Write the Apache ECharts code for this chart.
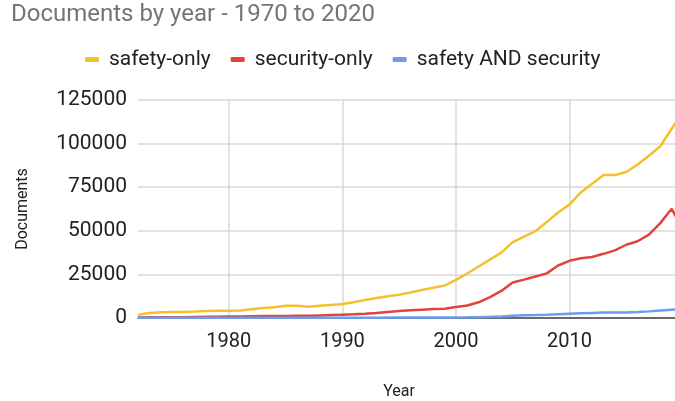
<!DOCTYPE html>
<html>
<head>
<meta charset="utf-8">
<script src="https://cdn.jsdelivr.net/npm/echarts@6/dist/echarts.min.js"></script>
<style>
html,body{margin:0;padding:0;overflow:hidden;background:#fff;width:675px;height:401px;}
#wrap{position:relative;width:675px;height:401px;overflow:hidden;}
#c{position:absolute;left:0;top:0;width:690px;height:401px;}
</style>
</head>
<body>
<div id="wrap"><div id="c"></div></div>
<script>
const titleText = 'Documents by year - 1970 to 2020';
const seriesNames = ['safety-only', 'security-only', 'safety AND security'];
const years = [];
for (let y = 1972; y <= 2020; y++) years.push(String(y));
const safetyOnly = [1800,2900,3300,3400,3500,3700,4000,4100,4200,4300,5000,5700,6200,7000,7000,6500,7000,7500,8000,9000,10300,11500,12500,13300,14600,16000,17300,18600,21900,25500,29500,33500,37500,43500,46700,49800,55000,60500,65000,72000,77000,82000,82000,83700,88000,93000,98500,108500,118000];
const securityOnly = [300,400,400,500,500,600,700,700,800,900,1000,1100,1200,1200,1300,1300,1500,1700,1900,2100,2400,2900,3500,4000,4500,4800,5100,5300,6300,7200,9000,12000,15500,20400,22000,23800,25600,30100,32800,34300,35000,36800,38800,42000,44000,47800,54400,62600,51000];
const safetyAndSecurity = [100,100,100,100,100,100,100,100,100,100,100,100,150,150,150,150,150,200,200,200,200,200,250,250,250,300,300,300,350,400,500,650,900,1300,1600,1700,1900,2200,2500,2700,2900,3100,3200,3200,3400,3800,4300,4800,5300];
const xTickYears = ['1980', '1990', '2000', '2010'];
const yTicks = {min: 0, max: 125000, interval: 25000};
const colors = ['#f4c12e', '#e0443a', '#6a9cef'];
const font = 'Roboto, Arial, sans-serif';

const chart = echarts.init(document.getElementById('c'), null, {renderer: 'canvas'});
const decade = (i, v) => xTickYears.indexOf(String(v)) >= 0;
chart.setOption({
  animation: false,
  color: colors,
  title: {
    text: titleText, left: 11, top: 3, padding: 0,
    textStyle: {fontFamily: font, fontSize: 24, fontWeight: 'normal', color: '#757575'}
  },
  legend: {
    left: 85, top: 49, padding: 0, itemGap: 20, itemWidth: 14, itemHeight: 5,
    icon: 'roundRect',
    textStyle: {fontFamily: font, fontSize: 21, color: '#222', padding: [0, 0, 0, 5]},
    data: seriesNames
  },
  grid: {left: 138, right: 7, top: 100, bottom: 83, containLabel: false, outerBoundsMode: 'none'},
  xAxis: {
    type: 'category', data: years, boundaryGap: false,
    name: 'Year', nameLocation: 'middle', nameGap: 66,
    nameTextStyle: {fontFamily: font, fontSize: 16, color: '#222', padding: [0, 23, 0, 0]},
    axisLine: {lineStyle: {color: '#444', width: 1.5}},
    axisTick: {show: false},
    axisLabel: {interval: decade, fontFamily: font, fontSize: 20, color: '#222', margin: 14},
    splitLine: {show: true, interval: decade, lineStyle: {color: '#d9d9d9', width: 1.5}}
  },
  yAxis: {
    type: 'value', min: yTicks.min, max: yTicks.max, interval: yTicks.interval,
    name: 'Documents', nameLocation: 'middle', nameGap: 107, nameRotate: 90,
    nameTextStyle: {fontFamily: font, fontSize: 16, color: '#222'},
    axisLine: {show: false}, axisTick: {show: false},
    axisLabel: {fontFamily: font, fontSize: 21, color: '#222', margin: 11, formatter: v => String(v)},
    splitLine: {lineStyle: {color: '#d9d9d9', width: 1.5}}
  },
  series: [
    {name: seriesNames[0], type: 'line', data: safetyOnly, showSymbol: false, lineStyle: {width: 2.5}},
    {name: seriesNames[1], type: 'line', data: securityOnly, showSymbol: false, lineStyle: {width: 2.5}},
    {name: seriesNames[2], type: 'line', data: safetyAndSecurity, showSymbol: false, lineStyle: {width: 2.5}}
  ]
});
</script>
</body>
</html>
